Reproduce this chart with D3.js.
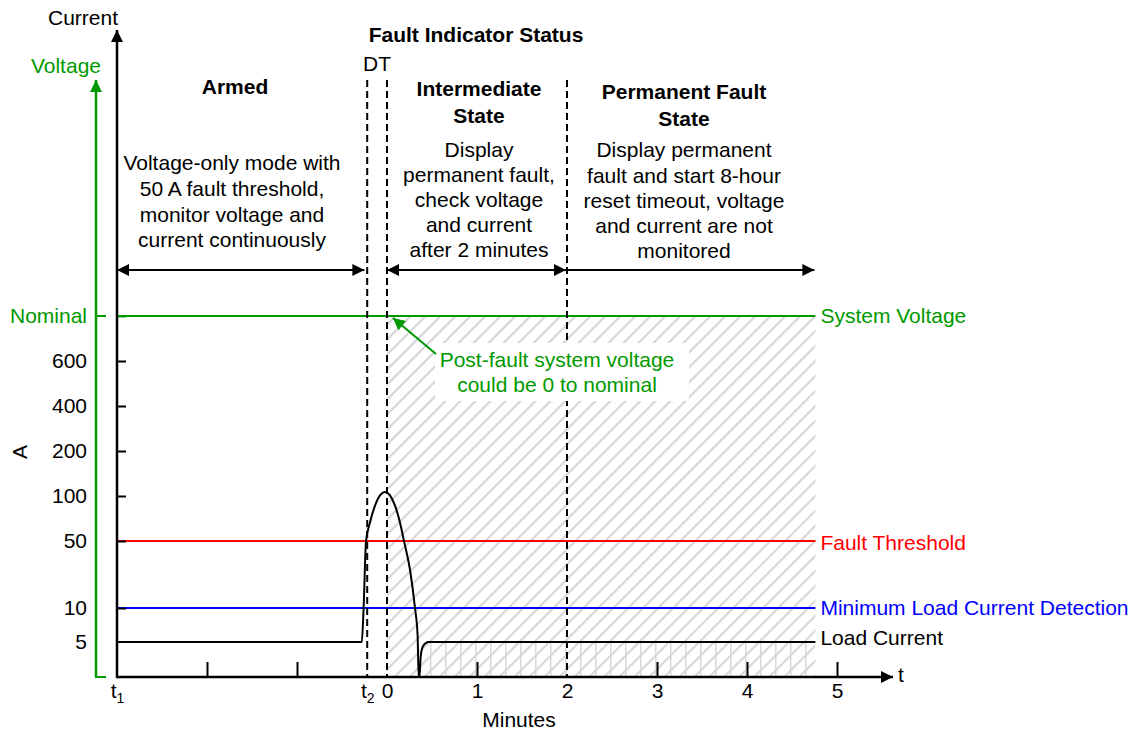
<!DOCTYPE html>
<html>
<head>
<meta charset="utf-8">
<script src="https://cdn.jsdelivr.net/npm/d3@7"></script>
<style>
body { margin: 0; background: #fff; }
svg { font-family: "Liberation Sans", Arial, sans-serif; }
</style>
</head>
<body>
<div id="main"></div>
<script>
// current axis (A); 800 stands in for "Nominal" voltage
const ampBreaks = [0, 5, 10, 50, 100, 200, 400, 600, 800]
const ampTicks = [5, 10, 50, 100, 200, 400, 600, 800]
const ampLabels = ["5", "10", "50", "100", "200", "400", "600", "Nominal"]

// time axis (minutes); negative values are the armed period t1..t2
const timeTicks = [-3, -2, -1, -0.22, 0, 1, 2, 3, 4, 5]
const timeLabels = ["t1", "", "", "t2", "0", "1", "2", "3", "4", "5"]

// load current trace
const loadTime = [-3, -0.28, -0.26, -0.233, -0.189, -0.133, -0.078, -0.022, 0.033, 0.089, 0.144, 0.189, 0.256, 0.311, 0.34, 0.352, 0.36, 0.375, 0.40, 0.46, 4.76]
const loadAmps = [5, 5, 10, 50, 70.6, 89.3, 101.3, 108.9, 101.3, 89.3, 70.6, 50, 32.7, 10, 6, 0, 0, 3, 4.4, 5, 5]

const nominalVoltage = 800
const faultThreshold = 50
const minLoadCurrent = 10
const tEnd = 4.76

const levelValues = [800, 50, 10, 5]
const levelLabels = ["System Voltage", "Fault Threshold", "Minimum Load Current Detection", "Load Current"]
const levelColors = ["#009900", "#ff0000", "#0000ff", "#000"]

const stateBounds = [-0.22, 0, 2]
const stateSpans = [[-3, -0.24], [0, 2], [2, 4.76]]
const stateTitles = [["Armed"], ["Intermediate", "State"], ["Permanent Fault", "State"]]
const stateNotes = [
    ["Voltage-only mode with", "50 A fault threshold,", "monitor voltage and", "current continuously"],
    ["Display", "permanent fault,", "check voltage", "and current", "after 2 minutes"],
    ["Display permanent", "fault and start 8-hour", "reset timeout, voltage", "and current are not", "monitored"]
]

let width = 1140
let height = 732
let green = "#009900"

let svg = d3.select('#main')
            .append('svg')
            .attr('width', width)
            .attr('height', height)

let x = d3.scaleLinear().domain([-3, 5]).range([117, 837])
let y = d3.scaleLinear().domain(ampBreaks).range([677, 642, 608, 541, 496, 451, 406, 361, 316])

let defs = svg.append('defs')

let mkArrow = (id, color) => {
    defs.append('marker')
        .attr('id', id)
        .attr('viewBox', '0 0 10 10')
        .attr('refX', 10).attr('refY', 5)
        .attr('markerWidth', 16).attr('markerHeight', 12)
        .attr('markerUnits', 'userSpaceOnUse')
        .attr('orient', 'auto-start-reverse')
        .append('path')
        .attr('d', 'M0,0L10,5L0,10Z')
        .style('fill', color)
}
mkArrow('arrow-k', '#000')
mkArrow('arrow-g', green)

let diag = defs.append('pattern')
    .attr('id', 'diag')
    .attr('patternUnits', 'userSpaceOnUse')
    .attr('width', 10.6).attr('height', 10.6)
    .attr('patternTransform', 'rotate(45)')
diag.append('line')
    .attr('x1', 5).attr('y1', 0).attr('x2', 5).attr('y2', 10.6)
    .style('stroke', '#d2d2d2').style('stroke-width', 2)

let vert = defs.append('pattern')
    .attr('id', 'vert')
    .attr('patternUnits', 'userSpaceOnUse')
    .attr('x', 430).attr('width', 15).attr('height', 15)
vert.append('line')
    .attr('x1', 0.75).attr('y1', 0).attr('x2', 0.75).attr('y2', 15)
    .style('stroke', '#d8d8d8').style('stroke-width', 1.5)

// hatched post-fault region
svg.append('rect')
    .attr('x', x(0))
    .attr('y', y(nominalVoltage))
    .attr('width', x(tEnd) - x(0))
    .attr('height', y(0) - y(nominalVoltage))
    .style('fill', 'url(#diag)')

let loadData = loadTime.map((t, i) => ({t: t, a: loadAmps[i]}))

let area = d3.area()
    .x((d) => x(d.t))
    .y0(y(0))
    .y1((d) => y(d.a))
    .curve(d3.curveMonotoneX)

svg.append('path')
    .datum(loadData.filter((d) => d.t >= 0.36))
    .attr('d', area)
    .style('fill', 'url(#vert)')

// level lines
svg.selectAll('.level')
    .data(levelValues.slice(0, 3))
    .enter()
    .append('line')
    .attr('x1', x(-3))
    .attr('x2', x(tEnd))
    .attr('y1', (d) => y(d))
    .attr('y2', (d) => y(d))
    .style('stroke', (d, i) => levelColors[i])
    .style('stroke-width', 2)

let line = d3.line()
    .x((d) => x(d.t))
    .y((d) => y(d.a))
    .curve(d3.curveMonotoneX)

svg.append('path')
    .datum(loadData)
    .attr('d', line)
    .style('fill', 'none')
    .style('stroke', '#000')
    .style('stroke-width', 2)

// state boundaries
svg.selectAll('.bound')
    .data(stateBounds)
    .enter()
    .append('line')
    .attr('x1', (d) => x(d)).attr('x2', (d) => x(d))
    .attr('y1', 80).attr('y2', y(0))
    .style('stroke', '#000')
    .style('stroke-width', 2)
    .style('stroke-dasharray', '7,4')

// x axis
let xAxis = d3.axisBottom(x)
    .tickValues(timeTicks)
    .tickSize(-15)
    .tickPadding(6)
    .tickFormat((d, i) => timeLabels[i])

let gx = svg.append('g')
    .attr('transform', 'translate(0,' + y(0) + ')')
    .call(xAxis)
gx.select('.domain').remove()
gx.selectAll('.tick line')
    .style('stroke-width', 2)
    .style('display', (d) => (d === -3 || d === -0.22 || d === 0 || d === 2) ? 'none' : null)
gx.selectAll('.tick text')
    .attr('font-size', 21)
    .attr('font-family', '"Liberation Sans", Arial, sans-serif')
    .style('fill', '#000')
    .each(function (d, i) {
        let lab = timeLabels[i]
        if (lab.length === 2) {
            let t = d3.select(this).text('t')
            t.append('tspan')
                .attr('font-size', 14)
                .attr('dy', '0.35em')
                .text(lab[1])
        }
    })

svg.append('line')
    .attr('x1', x(-3)).attr('x2', 893)
    .attr('y1', y(0)).attr('y2', y(0))
    .style('stroke', '#000')
    .style('stroke-width', 2.5)
    .attr('marker-end', 'url(#arrow-k)')

// y axis (current)
let yAxis = d3.axisLeft(y)
    .tickValues(ampTicks)
    .tickSize(-9)
    .tickPadding(30)
    .tickFormat((d, i) => ampLabels[i])

let gy = svg.append('g')
    .attr('transform', 'translate(' + x(-3) + ',0)')
    .call(yAxis)
gy.select('.domain').remove()
gy.selectAll('.tick line')
    .style('stroke', (d) => d === 800 ? green : '#000')
    .style('stroke-width', 2)
    .style('display', (d) => d === 5 ? 'none' : null)
gy.selectAll('.tick text')
    .attr('font-size', 21)
    .attr('font-family', '"Liberation Sans", Arial, sans-serif')
    .style('fill', (d) => d === 800 ? green : '#000')

svg.append('line')
    .attr('x1', x(-3)).attr('x2', x(-3))
    .attr('y1', y(0) + 1.2).attr('y2', 30)
    .style('stroke', '#000')
    .style('stroke-width', 2.5)
    .attr('marker-end', 'url(#arrow-k)')

// voltage axis
svg.append('line')
    .attr('x1', 96).attr('x2', 96)
    .attr('y1', y(0)).attr('y2', 80)
    .style('stroke', green)
    .style('stroke-width', 2.5)
    .attr('marker-end', 'url(#arrow-g)')

svg.selectAll('.vtick')
    .data([0, nominalVoltage])
    .enter()
    .append('line')
    .attr('x1', 95).attr('x2', 106)
    .attr('y1', (d) => y(d)).attr('y2', (d) => y(d))
    .style('stroke', green)
    .style('stroke-width', 2)

// axis titles
svg.append('text').attr('x', 118).attr('y', 18).attr('dy', '0.35em')
    .style('text-anchor', 'end').attr('font-size', 21).text('Current')
svg.append('text').attr('x', 101).attr('y', 66).attr('dy', '0.35em')
    .style('text-anchor', 'end').attr('font-size', 21).style('fill', green).text('Voltage')
svg.append('text').attr('transform', 'translate(20,452) rotate(-90)').attr('dy', '0.35em')
    .style('text-anchor', 'middle').attr('font-size', 21).text('A')
svg.append('text').attr('x', 898).attr('y', 675).attr('dy', '0.35em')
    .attr('font-size', 21).text('t')
svg.append('text').attr('x', 519).attr('y', 720).attr('dy', '0.35em')
    .style('text-anchor', 'middle').attr('font-size', 21).text('Minutes')

// level labels
svg.selectAll('.levlab')
    .data(levelValues)
    .enter()
    .append('text')
    .attr('x', x(tEnd) + 5)
    .attr('y', (d, i) => y(d) + [0, 2, 0, -4][i])
    .attr('dy', '0.35em')
    .attr('font-size', 21)
    .style('fill', (d, i) => levelColors[i])
    .text((d, i) => levelLabels[i])

// state headings
svg.append('text').attr('x', 476).attr('y', 35).attr('dy', '0.35em')
    .style('text-anchor', 'middle').attr('font-size', 21).style('font-weight', 'bold')
    .text('Fault Indicator Status')
svg.append('text').attr('x', 377).attr('y', 64).attr('dy', '0.35em')
    .style('text-anchor', 'middle').attr('font-size', 21).text('DT')

let titleX = [235, 479, 684]
let titleY = [87, 89, 92]
let noteX = [232, 479, 684]
let noteY = [163, 150, 150]
let noteGap = [25.7, 25, 25.2]

stateTitles.forEach((lines, k) => {
    svg.selectAll('.title' + k)
        .data(lines)
        .enter()
        .append('text')
        .attr('x', titleX[k])
        .attr('y', (d, i) => titleY[k] + i * 26.5)
        .attr('dy', '0.35em')
        .style('text-anchor', 'middle')
        .style('font-weight', 'bold')
        .attr('font-size', 21)
        .text((d) => d)
})

stateNotes.forEach((lines, k) => {
    svg.selectAll('.note' + k)
        .data(lines)
        .enter()
        .append('text')
        .attr('x', noteX[k])
        .attr('y', (d, i) => noteY[k] + i * noteGap[k])
        .attr('dy', '0.35em')
        .style('text-anchor', 'middle')
        .attr('font-size', 21)
        .text((d) => d)
})

// span arrows
svg.selectAll('.span')
    .data(stateSpans)
    .enter()
    .append('line')
    .attr('x1', (d) => x(d[0]))
    .attr('x2', (d) => x(d[1]) - 1)
    .attr('y1', 270).attr('y2', 270)
    .style('stroke', '#000')
    .style('stroke-width', 2)
    .attr('marker-start', (d, i) => i < 2 ? 'url(#arrow-k)' : null)
    .attr('marker-end', 'url(#arrow-k)')

// post-fault voltage note
svg.append('rect')
    .attr('x', 435).attr('y', 343)
    .attr('width', 254).attr('height', 58)
    .style('fill', '#fff')

svg.append('line')
    .attr('x1', 436).attr('y1', 354)
    .attr('x2', 393).attr('y2', 318)
    .style('stroke', green)
    .style('stroke-width', 2)
    .attr('marker-end', 'url(#arrow-g)')

svg.selectAll('.pf')
    .data(["Post-fault system voltage", "could be 0 to nominal"])
    .enter()
    .append('text')
    .attr('x', 557)
    .attr('y', (d, i) => 360 + i * 25)
    .attr('dy', '0.35em')
    .style('text-anchor', 'middle')
    .attr('font-size', 21)
    .style('fill', green)
    .text((d) => d)
</script>
</body>
</html>
